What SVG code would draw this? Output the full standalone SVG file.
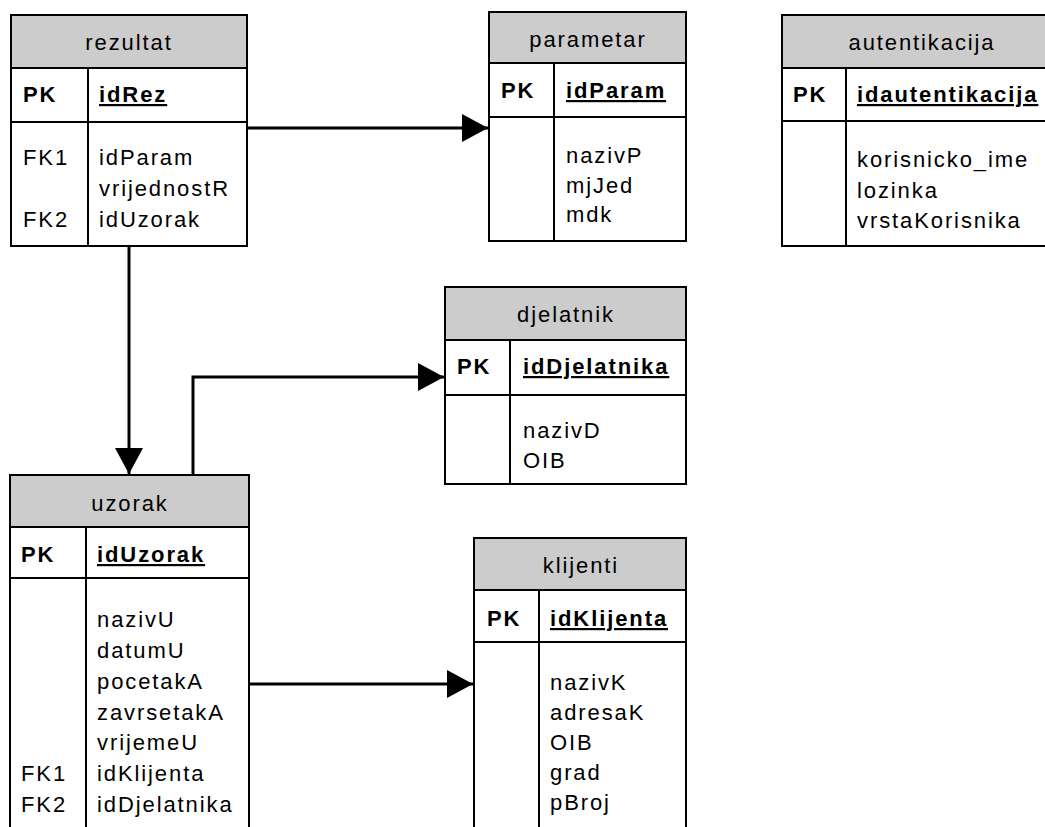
<svg xmlns="http://www.w3.org/2000/svg" width="1045" height="827" viewBox="0 0 1045 827">
<style>
.hdr{fill:#cccccc;stroke:#000;stroke-width:2}
.box{fill:#fff;stroke:#000;stroke-width:2}
.ln{stroke:#000;stroke-width:2;fill:none}
text{font-family:"Liberation Sans",Arial,sans-serif;font-size:22px;fill:#000;letter-spacing:1.9px}
.t{text-anchor:middle}
.b{font-weight:bold}
.u{font-weight:bold;text-decoration:underline}
.con{stroke:#000;stroke-width:3;fill:none}
</style>
<defs>
<marker id="arr" markerUnits="userSpaceOnUse" markerWidth="28" markerHeight="30" refX="26" refY="14" orient="auto">
<path d="M0,0 L26,14 L0,28 Z" fill="#000"/>
</marker>
</defs>
<rect width="1045" height="827" fill="#fff"/>

<g id="connectors">
<path class="con" d="M247,128 H488" marker-end="url(#arr)"/>
<path class="con" d="M129,246 V474" marker-end="url(#arr)"/>
<path class="con" d="M193,475 V377 H444" marker-end="url(#arr)"/>
<path class="con" d="M249,684 H473" marker-end="url(#arr)"/>
</g>

<g id="rezultat">
<rect class="box" x="11" y="15" width="236" height="231"/>
<rect class="hdr" x="11" y="15" width="236" height="53"/>
<line class="ln" x1="11" y1="122" x2="247" y2="122"/>
<line class="ln" x1="88" y1="68" x2="88" y2="246"/>
<text class="t" x="129" y="50">rezultat</text>
<text class="b" x="23" y="102">PK</text>
<text class="u" x="99" y="102">idRez</text>
<text x="23" y="165">FK1</text>
<text x="23" y="227">FK2</text>
<text x="99" y="165">idParam</text>
<text x="99" y="196">vrijednostR</text>
<text x="99" y="227">idUzorak</text>
</g>

<g id="parametar">
<rect class="box" x="489" y="12" width="197" height="229"/>
<rect class="hdr" x="489" y="12" width="197" height="51"/>
<line class="ln" x1="489" y1="117" x2="686" y2="117"/>
<line class="ln" x1="554" y1="63" x2="554" y2="241"/>
<text class="t" x="588" y="47">parametar</text>
<text class="b" x="501" y="98">PK</text>
<text class="u" x="566" y="98">idParam</text>
<text x="566" y="163">nazivP</text>
<text x="566" y="193">mjJed</text>
<text x="566" y="222">mdk</text>
</g>

<g id="autentikacija">
<rect class="box" x="782" y="15" width="280" height="231"/>
<rect class="hdr" x="782" y="15" width="280" height="53"/>
<line class="ln" x1="782" y1="121" x2="1062" y2="121"/>
<line class="ln" x1="846" y1="68" x2="846" y2="246"/>
<text class="t" x="922" y="50">autentikacija</text>
<text class="b" x="793" y="102">PK</text>
<text class="u" x="857" y="102">idautentikacija</text>
<text x="857" y="167">korisnicko_ime</text>
<text x="857" y="198">lozinka</text>
<text x="857" y="228">vrstaKorisnika</text>
</g>

<g id="djelatnik">
<rect class="box" x="445" y="287" width="241" height="197"/>
<rect class="hdr" x="445" y="287" width="241" height="53"/>
<line class="ln" x1="445" y1="395" x2="686" y2="395"/>
<line class="ln" x1="510" y1="340" x2="510" y2="484"/>
<text class="t" x="566" y="322">djelatnik</text>
<text class="b" x="457" y="374">PK</text>
<text class="u" x="523" y="374">idDjelatnika</text>
<text x="523" y="438">nazivD</text>
<text x="523" y="468">OIB</text>
</g>

<g id="uzorak">
<rect class="box" x="10" y="475" width="239" height="370"/>
<rect class="hdr" x="10" y="475" width="239" height="52"/>
<line class="ln" x1="10" y1="578" x2="249" y2="578"/>
<line class="ln" x1="86" y1="527" x2="86" y2="845"/>
<text class="t" x="130" y="511">uzorak</text>
<text class="b" x="21" y="562">PK</text>
<text class="u" x="97" y="562">idUzorak</text>
<text x="97" y="627">nazivU</text>
<text x="97" y="658">datumU</text>
<text x="97" y="689">pocetakA</text>
<text x="97" y="720">zavrsetakA</text>
<text x="97" y="750">vrijemeU</text>
<text x="97" y="781">idKlijenta</text>
<text x="97" y="812">idDjelatnika</text>
<text x="21" y="781">FK1</text>
<text x="21" y="812">FK2</text>
</g>

<g id="klijenti">
<rect class="box" x="474" y="538" width="212" height="310"/>
<rect class="hdr" x="474" y="538" width="212" height="52"/>
<line class="ln" x1="474" y1="642" x2="686" y2="642"/>
<line class="ln" x1="539" y1="590" x2="539" y2="848"/>
<text class="t" x="581" y="573">klijenti</text>
<text class="b" x="487" y="626">PK</text>
<text class="u" x="550" y="626">idKlijenta</text>
<text x="550" y="690">nazivK</text>
<text x="550" y="720">adresaK</text>
<text x="550" y="750">OIB</text>
<text x="550" y="780">grad</text>
<text x="550" y="810">pBroj</text>
</g>
</svg>
